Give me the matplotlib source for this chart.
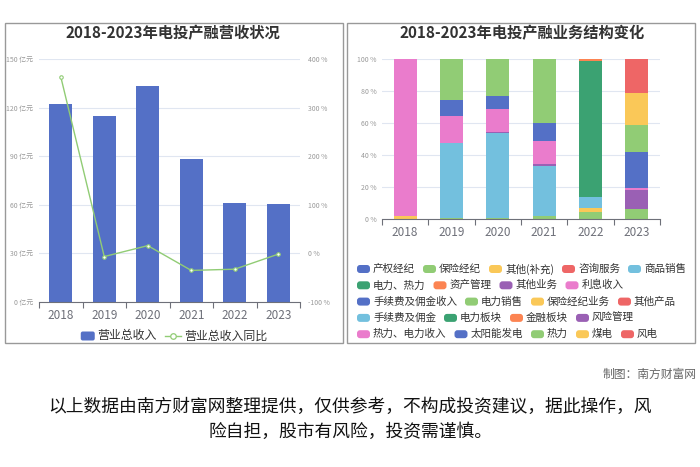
# 电投产融 revenue + business mix, two panels side by side

import matplotlib
import matplotlib.pyplot as plt
from matplotlib.patches import Rectangle, FancyBboxPatch
from matplotlib.lines import Line2D
from matplotlib.transforms import IdentityTransform
import numpy as np

plt.rcParams['font.family'] = ['Noto Sans CJK SC', 'DejaVu Sans']

years = ['2018', '2019', '2020', '2021', '2022', '2023']
revenue = [122.4, 114.8, 133.5, 88.5, 60.9, 60.3]          # 亿元
revenue_yoy = [363.6, -6.5, 16.0, -35.0, -32.5, -1.5]       # %

seg_names = ['产权经纪', '保险经纪', '其他(补充)', '咨询服务', '商品销售',
             '电力、热力', '资产管理', '其他业务', '利息收入',
             '手续费及佣金收入', '电力销售', '保险经纪业务', '其他产品',
             '手续费及佣金', '电力板块', '金融板块', '风险管理',
             '热力、电力收入', '太阳能发电', '热力', '煤电', '风电']

# share of each business per year (%)
mix_2018 = {'其他(补充)': 2.0, '热力、电力收入': 98.0}
mix_2019 = {'保险经纪': 0.8, '商品销售': 46.5, '利息收入': 16.8,
            '手续费及佣金收入': 10.1, '电力销售': 25.8}
mix_2020 = {'保险经纪': 0.8, '商品销售': 52.7, '其他业务': 0.6, '利息收入': 14.9,
            '手续费及佣金收入': 7.9, '电力销售': 23.1}
mix_2021 = {'保险经纪': 2.0, '商品销售': 31.1, '其他业务': 1.1, '利息收入': 14.3,
            '手续费及佣金收入': 11.7, '电力销售': 39.8}
mix_2022 = {'电力销售': 4.2, '保险经纪业务': 2.5, '手续费及佣金': 7.0,
            '电力板块': 85.3, '金融板块': 1.0}
mix_2023 = {'电力销售': 6.0, '风险管理': 12.1, '热力、电力收入': 1.5,
            '太阳能发电': 22.5, '热力': 16.4, '煤电': 20.25, '风电': 21.25}

mixes = [mix_2018, mix_2019, mix_2020, mix_2021, mix_2022, mix_2023]
legend_rows = [5, 4, 4, 4, 5]

palette = ['#5470c6', '#91cc75', '#fac858', '#ee6666', '#73c0de',
           '#3ba272', '#fc8452', '#9a60b4', '#ea7ccc']
axis_grey = '#6e7079'
grid_c = '#e0e6f1'

W, H = 700, 467
fig = plt.figure(figsize=(7, 4.67), dpi=100)
fig.patch.set_facecolor('white')
ID = IdentityTransform()


def fx(px):
    return px / W


def fy(py):
    return 1 - py / H


def style_axes(ax):
    for s in ['top', 'right', 'left']:
        ax.spines[s].set_visible(False)
    ax.spines['bottom'].set_color(axis_grey)
    ax.spines['bottom'].set_linewidth(0.8)
    ax.set_xticks(range(len(years)))
    ax.set_xticklabels(years)
    ax.set_xticks(np.arange(-0.5, len(years)), minor=True)
    ax.tick_params(axis='x', which='major', length=0, labelsize=8.5,
                   labelcolor=axis_grey, pad=5)
    ax.tick_params(axis='x', which='minor', length=4, color=axis_grey, width=0.8)
    ax.tick_params(axis='y', length=0, labelsize=5, labelcolor='#999999', pad=4)
    ax.set_xlim(-0.5, len(years) - 0.5)
    ax.grid(axis='y', color=grid_c, linewidth=0.8)
    ax.set_axisbelow(True)


# panel frames
fig.add_artist(Rectangle((fx(5), fy(343)), fx(338), 320 / H, transform=fig.transFigure,
                         fill=False, edgecolor='#999999', linewidth=1))
fig.add_artist(Rectangle((fx(347), fy(343)), fx(348), 320 / H, transform=fig.transFigure,
                         fill=False, edgecolor='#999999', linewidth=1))

# ---------- left: revenue ----------
ax1 = fig.add_axes([fx(39), fy(302), fx(300 - 39), (302 - 59) / H])
style_axes(ax1)
x = np.arange(len(years))
ax1.bar(x, revenue, width=0.53, color=palette[0], zorder=2)
ax1.set_ylim(0, 150)
ax1.set_yticks(range(0, 151, 30))
ax1.set_yticklabels([f'{v} 亿元' for v in range(0, 151, 30)])

ax2 = ax1.twinx()
ax2.set_ylim(-100, 400)
ax2.set_yticks(range(-100, 401, 100))
ax2.set_yticklabels([f'{v} %' for v in range(-100, 401, 100)])
for s in ax2.spines.values():
    s.set_visible(False)
ax2.tick_params(axis='y', length=0, labelsize=5, labelcolor='#999999', pad=6)
ax2.plot(x, revenue_yoy, color=palette[1], linewidth=1, marker='o', markersize=2.5,
         markerfacecolor='white', markeredgewidth=0.8, zorder=3)

fig.text(fx(173), fy(33), '2018-2023年电投产融营收状况', ha='center', va='center',
         fontsize=11, fontweight='bold', color='#333333')

# ---------- right: business mix ----------
ax3 = fig.add_axes([fx(382), fy(219), fx(660 - 382), (219 - 59) / H])
style_axes(ax3)
bottom = np.zeros(len(years))
for i, name in enumerate(seg_names):
    vals = np.array([m.get(name, 0) for m in mixes])
    ax3.bar(x, vals, bottom=bottom, width=0.5, color=palette[i % 9], zorder=2)
    bottom += vals
ax3.set_ylim(0, 100)
ax3.set_yticks(range(0, 101, 20))
ax3.set_yticklabels([f'{v} %' for v in range(0, 101, 20)])

fig.text(fx(522), fy(33), '2018-2023年电投产融业务结构变化', ha='center', va='center',
         fontsize=11, fontweight='bold', color='#333333')

fig.canvas.draw()
renderer = fig.canvas.get_renderer()


def legend_box(xp, yp, color):
    fig.add_artist(FancyBboxPatch((xp, H - yp - 4), 13, 8, transform=ID,
                                  boxstyle='round,pad=0,rounding_size=3',
                                  facecolor=color, edgecolor='none'))


# right legend, flowing rows
k = 0
for r, cnt in enumerate(legend_rows):
    yp = 269 + r * 16.3
    xp = 357
    for j in range(cnt):
        name = seg_names[k]
        legend_box(xp, yp, palette[k % 9])
        t = fig.text(xp + 16, H - yp, name, transform=ID, ha='left', va='center',
                     fontsize=7.6, color='#333333')
        w = t.get_window_extent(renderer).width
        xp += 16 + w + 8
        k += 1

# left legend, centred
items = ['营业总收入', '营业总收入同比']
widths = []
for s in items:
    t = fig.text(0, 0, s, fontsize=8.6)
    widths.append(t.get_window_extent(renderer).width)
    t.remove()
total = 14 + 3 + widths[0] + 8 + 16 + 3 + widths[1]
xp = 174 - total / 2
yp = 336
fig.add_artist(FancyBboxPatch((xp, H - yp - 4.5), 14, 9, transform=ID,
                              boxstyle='round,pad=0,rounding_size=2',
                              facecolor=palette[0], edgecolor='none'))
fig.text(xp + 17, H - yp, items[0], transform=ID, ha='left', va='center',
         fontsize=8.6, color='#333333')
xp += 17 + widths[0] + 8
fig.add_artist(Line2D([xp, xp + 16], [H - yp, H - yp], transform=ID,
                      color=palette[1], linewidth=1))
fig.add_artist(Line2D([xp + 8], [H - yp], transform=ID, marker='o', markersize=4,
                      markerfacecolor='white', markeredgecolor=palette[1],
                      markeredgewidth=0.9, linestyle='none'))
fig.text(xp + 19, H - yp, items[1], transform=ID, ha='left', va='center',
         fontsize=8.6, color='#333333')

# footer
fig.text(fx(697), fy(374), '制图：南方财富网', ha='right', va='center',
         fontsize=8.5, color='#666666')
fig.text(0.5, fy(407), '以上数据由南方财富网整理提供，仅供参考，不构成投资建议，据此操作，风',
         ha='center', va='center', fontsize=12.8, color='#111111')
fig.text(0.5, fy(432), '险自担，股市有风险，投资需谨慎。',
         ha='center', va='center', fontsize=12.8, color='#111111')

fig.savefig('out.png', dpi=100)
